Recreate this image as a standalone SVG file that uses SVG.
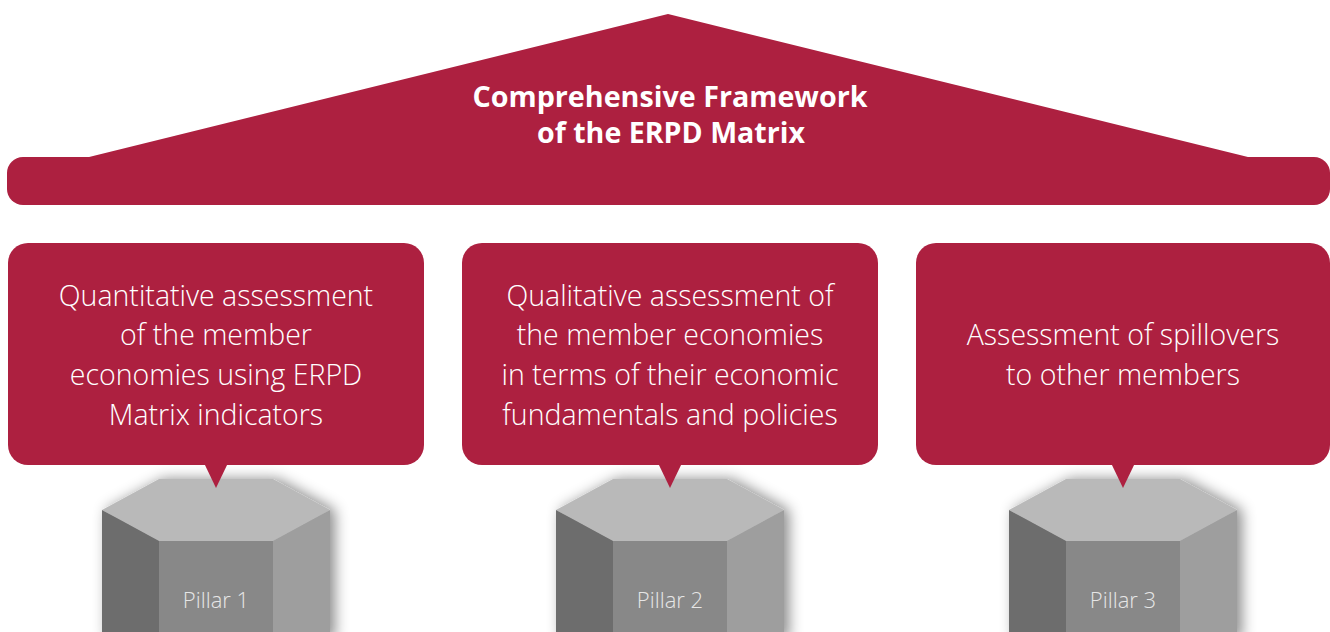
<svg xmlns="http://www.w3.org/2000/svg" width="1330" height="632" viewBox="0 0 1330 632">
  <style>
    .red { fill: #ad2040; }
    .title { font-family: "Open Sans", "Liberation Sans", sans-serif; font-weight: 700; font-size: 28px; fill: #ffffff; text-anchor: middle; }
    .box { font-family: "Open Sans", "Liberation Sans", sans-serif; font-weight: 300; font-size: 28.5px; fill: #ffffff; text-anchor: middle; }
    .plabel { font-family: "Open Sans", "Liberation Sans", sans-serif; font-weight: 300; font-size: 22px; fill: #e6e6e6; text-anchor: middle; }
    .ptop { fill: #b9b9b9; }
    .pleft { fill: #6d6d6d; }
    .pfront { fill: #888888; }
    .pright { fill: #9e9e9e; }
  </style>
  <defs>
    <filter id="shadow" x="-30%" y="-30%" width="160%" height="160%">
      <feDropShadow dx="5" dy="0" stdDeviation="7" flood-color="#000000" flood-opacity="0.45"/>
    </filter>
    <g id="pillar">
      <g filter="url(#shadow)">
        <polygon class="ptop" points="-57,0 57,0 114,31 57,62 -57,62 -114,31"/>
        <polygon class="pleft" points="-114,31 -57,62 -57,160 -114,160"/>
        <polygon class="pfront" points="-57,62 57,62 57,160 -57,160"/>
        <polygon class="pright" points="57,62 114,31 114,160 57,160"/>
      </g>
    </g>
  </defs>
  <rect width="1330" height="632" fill="#ffffff"/>

  <g id="roof">
    <polygon class="red" points="85,158 668,14 1252,158"/>
    <rect class="red" x="7" y="157" width="1323" height="48" rx="16"/>
    <text class="title" x="670" y="107" textLength="395" lengthAdjust="spacingAndGlyphs">Comprehensive Framework</text>
    <text class="title" x="671" y="143" textLength="268" lengthAdjust="spacingAndGlyphs">of the ERPD Matrix</text>
  </g>

  <g id="pillar1">
    <use href="#pillar" x="216" y="479"/>
    <text class="plabel" x="216" y="608">Pillar 1</text>
  </g>
  <g id="pillar2">
    <use href="#pillar" x="670" y="479"/>
    <text class="plabel" x="670" y="608">Pillar 2</text>
  </g>
  <g id="pillar3">
    <use href="#pillar" x="1123" y="479"/>
    <text class="plabel" x="1123" y="608">Pillar 3</text>
  </g>

  <g id="box1">
    <rect class="red" x="8" y="243" width="416" height="222" rx="20"/>
    <polygon class="red" points="204,463 228,463 216,488"/>
    <text class="box" x="216" y="306">Quantitative assessment</text>
    <text class="box" x="216" y="345">of the member</text>
    <text class="box" x="216" y="385">economies using ERPD</text>
    <text class="box" x="216" y="425">Matrix indicators</text>
  </g>
  <g id="box2">
    <rect class="red" x="462" y="243" width="416" height="222" rx="20"/>
    <polygon class="red" points="658,463 682,463 670,488"/>
    <text class="box" x="670" y="306">Qualitative assessment of</text>
    <text class="box" x="670" y="345">the member economies</text>
    <text class="box" x="670" y="385">in terms of their economic</text>
    <text class="box" x="670" y="425">fundamentals and policies</text>
  </g>
  <g id="box3">
    <rect class="red" x="916" y="243" width="414" height="222" rx="20"/>
    <polygon class="red" points="1111,463 1135,463 1123,488"/>
    <text class="box" x="1123" y="345">Assessment of spillovers</text>
    <text class="box" x="1123" y="385">to other members</text>
  </g>

  <g id="connectors"></g>
</svg>
